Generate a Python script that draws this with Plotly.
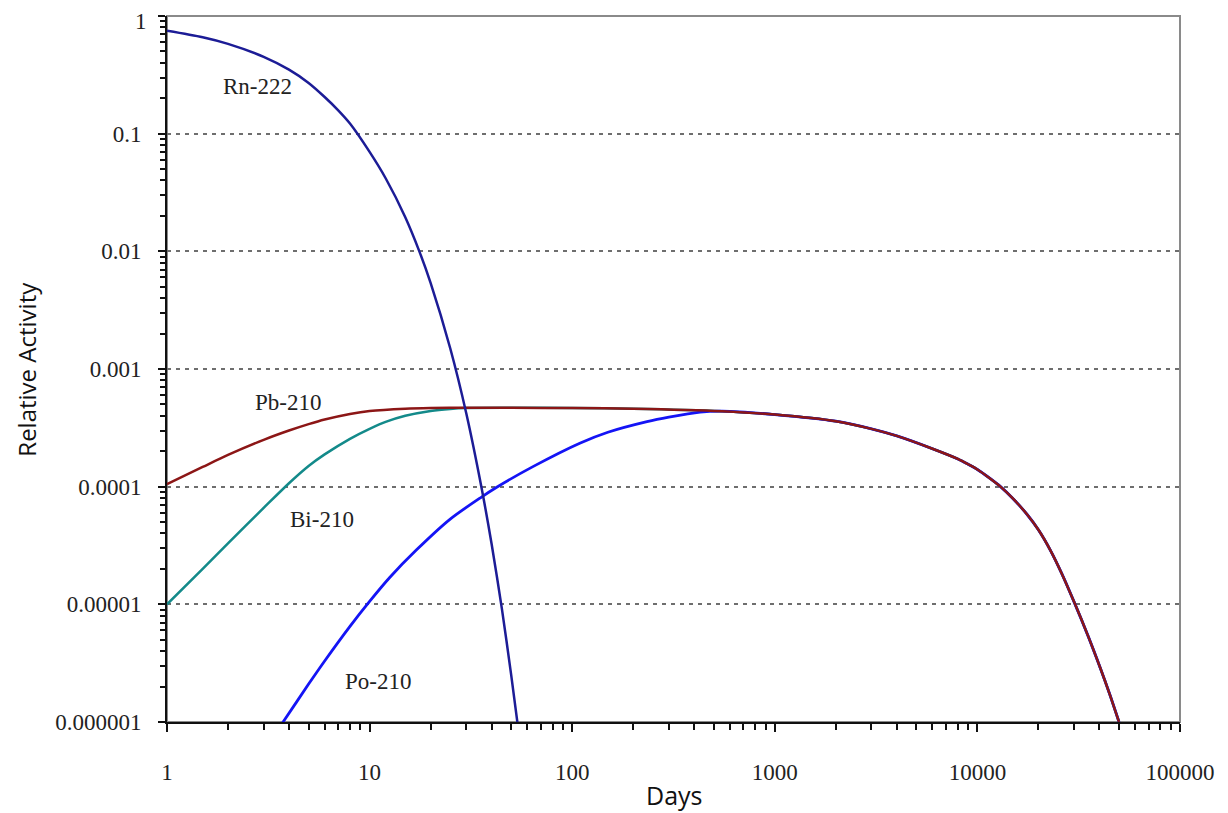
import math
import plotly.graph_objects as go

# ---- data ----
rn_days = [1, 1.5, 2, 3, 4, 5, 6, 7, 8, 10, 12, 15, 17.6, 20, 25, 30, 35.8, 40, 45, 50, 54]
rn_vals = [0.75, 0.66, 0.58, 0.45, 0.35, 0.27, 0.205, 0.158, 0.122, 0.07, 0.0418, 0.0195, 0.01,
           0.0054, 0.0015, 0.00042, 0.000095, 0.0000327, 0.0000091, 0.0000025, 0.00000091]

# late part: Pb-210, Bi-210 and Po-210 lie on one common curve
late_days = [550, 1000, 2000, 3000, 4000, 6000, 8000, 9000, 10000, 11500, 13000, 15000, 17600,
             20000, 23000, 26000, 30000, 35000, 40500, 45000, 50000]
late_vals = [4.38e-4, 4.1e-4, 3.6e-4, 3.1e-4, 2.7e-4, 2.1e-4, 1.72e-4, 1.55e-4, 1.40e-4, 1.18e-4,
             1.0e-4, 7.9e-5, 5.8e-5, 4.3e-5, 2.85e-5, 1.85e-5, 1.05e-5, 5.5e-6, 2.85e-6, 1.72e-6,
             1.0e-6]

pb_early_days = [1, 1.5, 2, 3, 4, 5, 6, 8, 10, 15, 20, 30, 50, 100, 200]
pb_early_vals = [1.05e-4, 1.47e-4, 1.86e-4, 2.5e-4, 3.0e-4, 3.4e-4, 3.72e-4, 4.15e-4, 4.4e-4,
                 4.6e-4, 4.66e-4, 4.68e-4, 4.68e-4, 4.66e-4, 4.6e-4]

bi_early_days = [1, 1.5, 2, 3, 4, 5, 6, 8, 10, 12, 15, 20, 25, 30, 50, 100, 200]
bi_early_vals = [1.0e-5, 2.0e-5, 3.3e-5, 6.6e-5, 1.07e-4, 1.5e-4, 1.88e-4, 2.55e-4, 3.1e-4,
                 3.55e-4, 4.0e-4, 4.4e-4, 4.58e-4, 4.66e-4, 4.68e-4, 4.66e-4, 4.6e-4]

po_early_days = [3.5, 3.74, 5, 6, 8, 10, 12.6, 17, 25, 35.8, 42, 64, 109, 150, 234, 300, 428]
po_early_vals = [8.5e-7, 1.0e-6, 2.1e-6, 3.3e-6, 6.5e-6, 1.06e-5, 1.7e-5, 2.89e-5, 5.3e-5,
                 8.2e-5, 9.8e-5, 1.48e-4, 2.34e-4, 2.9e-4, 3.57e-4, 3.9e-4, 4.3e-4]

x_tickvals = [1, 10, 100, 1000, 10000, 100000]
x_ticktext = ["1", "10", "100", "1000", "10000", "100000"]
y_tickvals = [1, 0.1, 0.01, 0.001, 0.0001, 0.00001, 0.000001]
y_ticktext = ["1", "0.1", "0.01", "0.001", "0.0001", "0.00001", "0.000001"]

labels = ["Rn-222", "Pb-210", "Bi-210", "Po-210"]
label_x = [2.79, 3.95, 5.81, 11.0]        # days
label_y = [0.254, 0.000515, 0.0000523, 0.00000221]  # relative activity

# ---- figure ----
fig = go.Figure()
series = [
    ("Bi-210", bi_early_days + late_days, bi_early_vals + late_vals, "#138a8a", 2.5),
    ("Po-210", po_early_days + late_days, po_early_vals + late_vals, "#1414f5", 2.8),
    ("Pb-210", pb_early_days + late_days, pb_early_vals + late_vals, "#8c1616", 2.5),
    ("Rn-222", rn_days, rn_vals, "#1c1c96", 2.5),
]
for name, xs, ys, col, w in series:
    fig.add_trace(go.Scatter(x=xs, y=ys, mode="lines", name=name,
                             line=dict(color=col, width=w, shape="spline", smoothing=0.8)))

serif = "Liberation Serif, Times New Roman, serif"
tickfont = dict(family=serif, size=23, color="#222222")
for t, lx, ly in zip(labels, label_x, label_y):
    fig.add_annotation(x=math.log10(lx), y=math.log10(ly), xref="x", yref="y", text=t, showarrow=False,
                       xanchor="center", yanchor="middle", font=tickfont)

# top y tick label ("1") placed as text just inside the page top edge
fig.add_annotation(x=-0.0187, y=1.0113, xref="paper", yref="paper", text=y_ticktext[0],
                   showarrow=False, xanchor="right", yanchor="top", borderpad=0, font=tickfont)

fig.add_annotation(x=0.5, y=-0.1034, xref="paper", yref="paper", text="Days", showarrow=False,
                   xanchor="center", yanchor="middle",
                   font=dict(family="Open Sans, sans-serif", size=25, color="#111111"))
fig.add_annotation(x=-0.1395, y=0.5, xref="paper", yref="paper", text="Relative Activity",
                   showarrow=False, textangle=-90, xanchor="center", yanchor="middle",
                   font=dict(family="Open Sans, sans-serif", size=24, color="#111111"))

# gray frame (top/right)
fig.add_shape(type="rect", xref="paper", yref="paper", x0=0, y0=0, x1=1, y1=1,
              line=dict(color="#8a8a8a", width=2), layer="below")

fig.update_xaxes(type="log", range=[0, 5], tickmode="array", tickvals=x_tickvals, ticktext=x_ticktext,
                 showgrid=False, zeroline=False, showline=True, linecolor="#111111", linewidth=2,
                 ticks="outside", ticklen=8, tickwidth=1.5, tickcolor="#111111",
                 ticklabelstandoff=20, automargin=False, ticklabeloverflow="allow",
                 tickfont=tickfont,
                 minor=dict(ticks="outside", ticklen=6, tickwidth=1.5, tickcolor="#111111",
                            dtick="D1", showgrid=False))
fig.update_yaxes(type="log", range=[-6, 0], tickmode="array", tickvals=y_tickvals,
                 ticktext=[""] + y_ticktext[1:],
                 showgrid=True, gridcolor="#6e6e6e", gridwidth=1.5, griddash="4px,5px",
                 zeroline=False, showline=True, linecolor="#111111", linewidth=2,
                 ticks="outside", ticklen=7, tickwidth=1.5, tickcolor="#111111",
                 ticklabelstandoff=12, automargin=False, ticklabeloverflow="allow",
                 tickfont=tickfont,
                 minor=dict(ticks="outside", ticklen=5, tickwidth=1.5, tickcolor="#111111",
                            dtick="D1", showgrid=False))

fig.update_layout(width=1220, height=805, margin=dict(l=159, r=48, t=8, b=91, autoexpand=False),
                  paper_bgcolor="white", plot_bgcolor="white", showlegend=False)

fig.write_html("out.html")
